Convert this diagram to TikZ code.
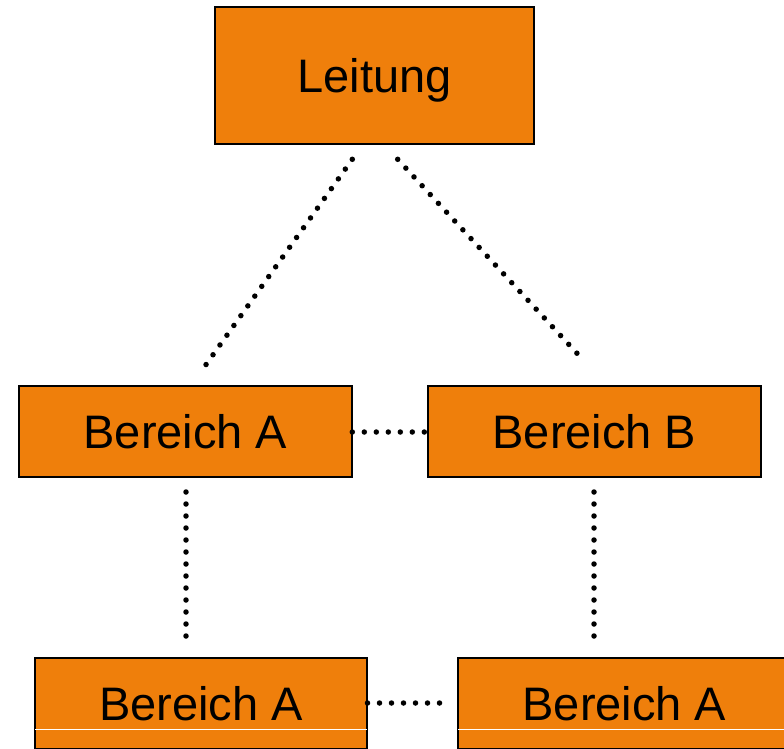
\documentclass[tikz,border=0pt]{standalone}
\usepackage{fontspec}
\setmainfont{Liberation Sans}
\usetikzlibrary{calc}
\definecolor{boxorange}{RGB}{239,127,11}
\tikzset{
  orgbox/.style={draw=black, line width=2.8pt, fill=boxorange, inner sep=0pt,
    font=\fontsize{47}{56}\selectfont, text height=33.7pt, text depth=0pt},
  dotline/.style={line width=5.5pt, line cap=round, dash pattern=on 0pt off 12pt},
  glint/.style={draw=white, line width=1pt}
}
\begin{document}
\begin{tikzpicture}[x=1pt,y=-1pt]
\useasboundingbox (0,0) rectangle (784,748);
\begin{scope}
\clip (0,0) rectangle (784,748);
\node[orgbox, minimum width=319pt, minimum height=137pt] (L) at (374.5,75.5) {Leitung};
\node[orgbox, minimum width=333pt, minimum height=91pt] (A) at (185.5,431.5) {Bereich A};
\node[orgbox, minimum width=333pt, minimum height=91pt] (B) at (594.5,431.5) {Bereich B};
\node[orgbox, minimum width=332pt, minimum height=91pt] (BL) at (201,703.5) {Bereich A};
\node[orgbox, minimum width=333pt, minimum height=91pt] (BR) at (624.5,703.5) {Bereich A};
\draw[glint] ($(BL.west)+(1.5,25.5)$) -- ($(BL.east)+(-1.5,25.5)$);
\draw[glint] ($(BR.west)+(1.5,25.5)$) -- ($(BR.east)+(-1.5,25.5)$);
\end{scope}
% connector end points
\coordinate (l1) at (352.3,159.3);
\coordinate (l2) at (205.7,365);
\coordinate (r1) at (397.7,159.3);
\coordinate (r2) at (577,353.3);
\coordinate (m1) at (352.3,432);
\coordinate (m2) at (424.3,432);
\coordinate (va1) at (186,492);
\coordinate (va2) at (186,636);
\coordinate (vb1) at (594,492);
\coordinate (vb2) at (594,636);
\coordinate (b1) at (367.5,703);
\coordinate (b2) at (439.5,703);
\draw[dotline] (l1) -- (l2);
\draw[dotline] (r1) -- (r2);
\draw[dotline] (m1) -- (m2);
\draw[dotline] (va1) -- (va2);
\draw[dotline] (vb1) -- (vb2);
\draw[dotline] (b1) -- (b2);
\end{tikzpicture}
\end{document}
